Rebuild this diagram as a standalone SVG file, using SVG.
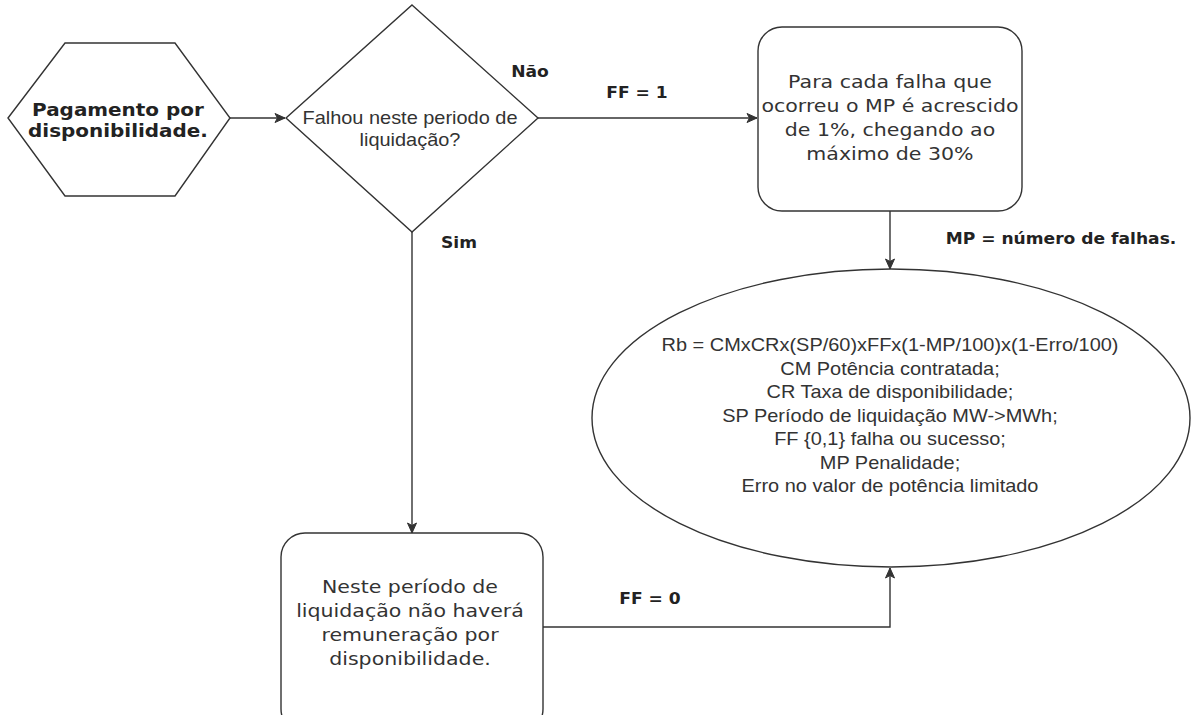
<svg xmlns="http://www.w3.org/2000/svg" width="1192" height="715" viewBox="0 0 1192 715">
  <style>
    .shape { fill: #ffffff; stroke: #333333; stroke-width: 1.4; }
    .edge { fill: none; stroke: #333333; stroke-width: 1.4; }
    .t { fill: #333333; text-anchor: middle; transform-box: fill-box; transform-origin: center; transform: scaleX(1.14); }
    .arial { font-family: "Liberation Sans", Arial, sans-serif; font-size: 17.5px; }
    .verd { font-family: "DejaVu Sans", Verdana, sans-serif; font-size: 18px; }
    .lbl { font-family: "DejaVu Sans", Verdana, sans-serif; font-size: 15px; font-weight: bold; fill: #222222; }
    .title { font-family: "DejaVu Sans", Verdana, sans-serif; font-size: 17.5px; font-weight: bold; fill: #222222; }
  </style>
  <defs>
    <marker id="arrow" markerUnits="userSpaceOnUse" markerWidth="12" markerHeight="12" viewBox="0 0 12 12" refX="11" refY="6" orient="auto">
      <path d="M1,1.5 L11,6 L1,10.5 L3.5,6 Z" fill="#333333" stroke="#333333" stroke-width="1"/>
    </marker>
  </defs>
  <rect width="1192" height="715" fill="#ffffff"/>

  <g id="connectors">
    <path class="edge" d="M230,118 L285,118" marker-end="url(#arrow)"/>
    <path class="edge" d="M538,118 L757,118" marker-end="url(#arrow)"/>
    <path class="edge" d="M412,232 L412,533" marker-end="url(#arrow)"/>
    <path class="edge" d="M890,211 L890,269" marker-end="url(#arrow)"/>
    <path class="edge" d="M543,627 L890,627 L890,568" marker-end="url(#arrow)"/>
    <text class="t lbl" x="530" y="77">Não</text>
    <text class="t lbl" x="459" y="248">Sim</text>
    <text class="t lbl" x="637" y="98">FF = 1</text>
    <text class="t lbl" x="650" y="604">FF = 0</text>
    <text class="t lbl" x="1061" y="244">MP = número de falhas.</text>
  </g>

  <g id="start">
    <polygon class="shape" points="8,118 65,43 175,43 230,118 175,196 65,196"/>
    <text class="t title" x="118" y="116">Pagamento por</text>
    <text class="t title" x="118" y="137">disponibilidade.</text>
  </g>

  <g id="decision">
    <polygon class="shape" points="412,5 538,118 412,232 286,118"/>
    <text class="t arial" x="410" y="124">Falhou neste periodo de</text>
    <text class="t arial" x="410" y="146">liquidação?</text>
  </g>

  <g id="penalty">
    <rect class="shape" x="758" y="27" width="264" height="184" rx="24" ry="24"/>
    <text class="t verd" x="890" y="88">Para cada falha que</text>
    <text class="t verd" x="890" y="112">ocorreu o MP é acrescido</text>
    <text class="t verd" x="890" y="136">de 1%, chegando ao</text>
    <text class="t verd" x="890" y="160">máximo de 30%</text>
  </g>

  <g id="no-payment">
    <rect class="shape" x="281" y="533" width="262" height="200" rx="24" ry="24"/>
    <text class="t verd" x="410" y="593">Neste período de</text>
    <text class="t verd" x="410" y="617">liquidação não haverá</text>
    <text class="t verd" x="410" y="641">remuneração por</text>
    <text class="t verd" x="410" y="665">disponibilidade.</text>
  </g>

  <g id="formula">
    <ellipse class="shape" cx="891" cy="418" rx="299" ry="149"/>
    <text class="t arial" x="890" y="351">Rb = CMxCRx(SP/60)xFFx(1-MP/100)x(1-Erro/100)</text>
    <text class="t arial" x="890" y="375">CM Potência contratada;</text>
    <text class="t arial" x="890" y="398">CR Taxa de disponibilidade;</text>
    <text class="t arial" x="890" y="422">SP Período de liquidação MW-&gt;MWh;</text>
    <text class="t arial" x="890" y="445">FF {0,1} falha ou sucesso;</text>
    <text class="t arial" x="890" y="469">MP Penalidade;</text>
    <text class="t arial" x="890" y="492">Erro no valor de potência limitado</text>
  </g>
</svg>
